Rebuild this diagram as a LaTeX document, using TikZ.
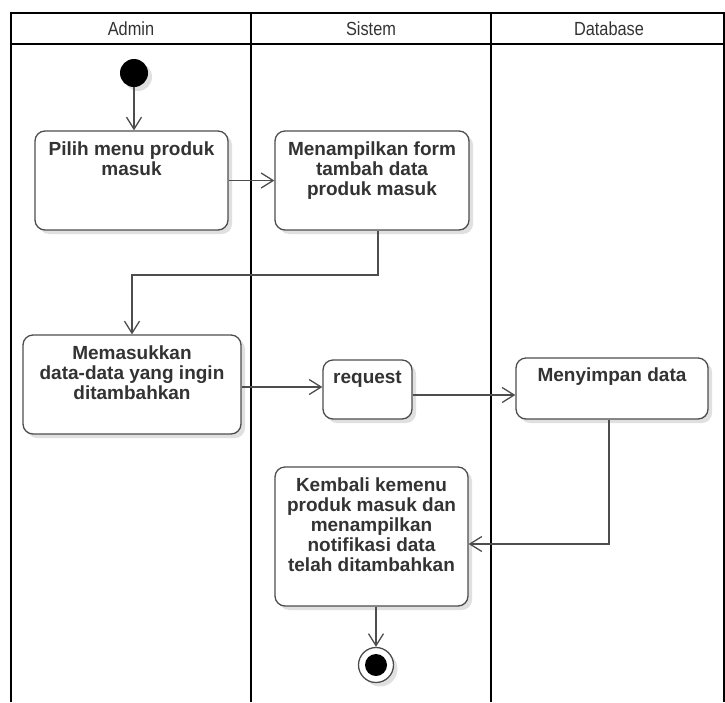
\documentclass[tikz,border=0pt]{standalone}
\usepackage{fontspec}
\setmainfont{Liberation Sans}
\newfontfamily\headfont[FakeStretch=0.86]{Liberation Sans}
\usetikzlibrary{arrows.meta,shadows}
\definecolor{ink}{HTML}{333333}
\definecolor{edge}{HTML}{4D4D4D}
\newcommand{\acttext}[4]{\parbox[c][#2pt][t]{#1pt}{\centering\vspace*{#3pt}#4}}
\tikzset{
  lane/.style={draw=black, line width=2pt},
  softshadow/.style={drop shadow={shadow xshift=4pt, shadow yshift=-4pt, fill=black, opacity=0.12}},
  act/.style={draw=edge, line width=1.3pt, fill=white, rounded corners=10pt,
    inner sep=0pt, text=ink,
    font=\fontsize{19}{20}\selectfont\bfseries, softshadow},
  flow/.style={draw=edge, line width=1.3pt, -{Straight Barb[length=12pt,width=15pt,line width=1.3pt]}},
  lanehead/.style={text=ink, font=\headfont\fontsize{19}{20}\selectfont},
}
\begin{document}
\begin{tikzpicture}[x=1pt,y=-1pt]
\useasboundingbox (0,0) rectangle (725,702);

% swimlanes
\draw[lane] (11,702) -- (11,13) -- (724,13) -- (724,702);
\draw[lane] (11,44) -- (724,44);
\draw[lane] (251,13) -- (251,702);
\draw[lane] (491,13) -- (491,702);
\node[lanehead] (hA) at (131,29) {Admin};
\node[lanehead] (hS) at (371,29) {Sistem};
\node[lanehead] (hD) at (609,29) {Database};

% start and end
\node[circle, fill=black, minimum size=28pt, inner sep=0pt, softshadow] (Start) at (134,73) {};
\node[circle, draw=edge, line width=1.3pt, fill=white, minimum size=35pt, inner sep=0pt, softshadow] (End) at (376,665) {};
\node[circle, fill=black, minimum size=22pt, inner sep=0pt] (EndDot) at (End) {};

% activities
\node[act] (A1) at (131.5,180.5) {\acttext{193}{99}{11}{Pilih menu produk\\masuk}};
\node[act] (S1) at (372,180.5) {\acttext{194}{99}{11}{Menampilkan form\\tambah data\\produk masuk}};
\node[act] (A2) at (132,384.5) {\acttext{218}{99}{11}{Memasukkan\\data-data yang ingin\\ditambahkan}};
\node[act] (Rq) at (367.5,389.5) {\acttext{89}{59}{11}{request}};
\node[act] (Mn) at (612,388.5) {\acttext{192}{61}{10}{Menyimpan data}};
\node[act] (K) at (371.5,536.5) {\acttext{193}{139}{11}{Kembali kemenu\\produk masuk dan\\menampilkan\\notifikasi data\\telah ditambahkan}};

% control flow
\draw[flow] (Start) -- (Start |- A1.north);
\draw[flow] (A1.east) -- (S1.west);
\draw[flow] ([xshift=6]S1.south) |- (131,275) -| (A2.north);
\draw[flow] (A2.east |- 0,387) -- (Rq.west |- 0,387);
\draw[flow] (Rq.east |- 0,395) -- (Mn.west |- 0,395);
\draw[flow] ([xshift=-3]Mn.south) |- (K.east |- 0,544);
\draw[flow] (K.south -| End.north) -- (End.north);
\end{tikzpicture}
\end{document}
